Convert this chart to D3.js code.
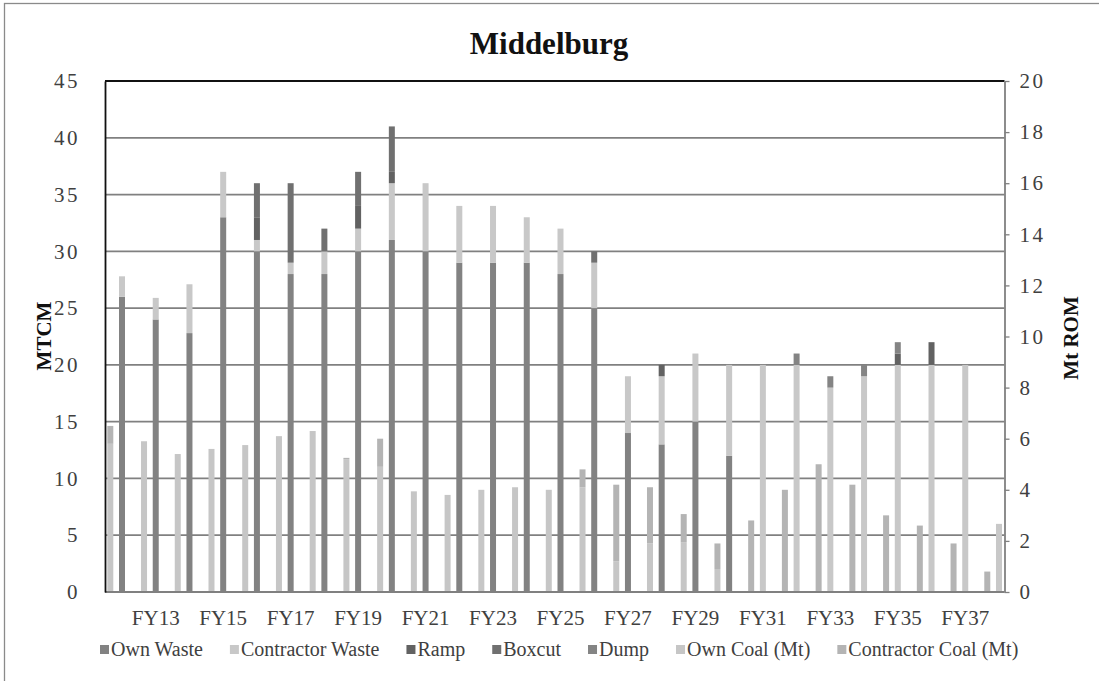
<!DOCTYPE html>
<html><head><meta charset="utf-8">
<script src="https://cdn.jsdelivr.net/npm/d3@7"></script>
<style>
body{margin:0;background:#fff}
svg{display:block}
text{font-family:"Liberation Serif","Times New Roman",serif}
</style>
</head><body>
<svg id="c" width="1099" height="681"></svg>
<script>
// ---------------- DATA ----------------
const categories = ["FY12","FY13","FY14","FY15","FY16","FY17","FY18","FY19","FY20","FY21","FY22","FY23","FY24","FY25","FY26","FY27","FY28","FY29","FY30","FY31","FY32","FY33","FY34","FY35","FY36","FY37","FY38"];
// waste (MTCM, left axis)
const ownWaste        = [26, 24, 22.8, 33, 30, 28, 28, 30, 31, 30, 29, 29, 29, 28, 25, 14, 13, 15, 12, 0, 0, 0, 0, 0, 0, 0, 0];
const contractorWaste = [1.8, 1.9, 4.3, 4, 1, 1, 2, 2, 5, 6, 5, 5, 4, 4, 4, 5, 6, 6, 8, 20, 20, 18, 19, 20, 20, 20, 6];
const ramp            = [0, 0, 0, 0, 2, 0, 0, 2, 1, 0, 0, 0, 0, 0, 0, 0, 1, 0, 0, 0, 0, 0, 0, 1, 2, 0, 0];
const boxcut          = [0, 0, 0, 0, 3, 7, 2, 3, 4, 0, 0, 0, 0, 0, 1, 0, 0, 0, 0, 0, 0, 0, 0, 0, 0, 0, 0];
const dump            = [0, 0, 0, 0, 0, 0, 0, 0, 0, 0, 0, 0, 0, 0, 0, 0, 0, 0, 0, 0, 1, 1, 1, 1, 0, 0, 0];
// coal (Mt ROM, right axis)
const ownCoal         = [5.8, 5.9, 5.4, 5.6, 5.75, 6.1, 6.3, 5.2, 4.9, 3.94, 3.8, 4.0, 4.1, 4.0, 4.1, 1.2, 1.9, 1.95, 0.9, 0, 0, 0, 0, 0, 0, 0, 0];
const contractorCoal  = [0.7, 0, 0, 0, 0, 0, 0, 0.05, 1.1, 0, 0, 0, 0, 0, 0.7, 3.0, 2.2, 1.1, 1.0, 2.8, 4.0, 5.0, 4.2, 3.0, 2.6, 1.9, 0.8];

const leftTicks  = [0, 5, 10, 15, 20, 25, 30, 35, 40, 45];
const rightTicks = [0, 2, 4, 6, 8, 10, 12, 14, 16, 18, 20];
const xTickLabels = ["FY13","FY15","FY17","FY19","FY21","FY23","FY25","FY27","FY29","FY31","FY33","FY35","FY37"];

const wasteSeries = ["Own Waste","Contractor Waste","Ramp","Boxcut","Dump"];
const coalSeries  = ["Own Coal (Mt)","Contractor Coal (Mt)"];
const legendOrder = ["Own Waste","Contractor Waste","Ramp","Boxcut","Dump","Own Coal (Mt)","Contractor Coal (Mt)"];
const colors = {
  "Own Waste":"#828282","Contractor Waste":"#c8c8c8","Ramp":"#626262","Boxcut":"#707070",
  "Dump":"#848484","Own Coal (Mt)":"#c6c6c6","Contractor Coal (Mt)":"#b4b4b4"
};

// ---------------- LAYOUT ----------------
const plotL = 105, plotR = 1004.5, plotT = 81, plotB = 592;
const step = 33.73, bandStart = 107.3, barW = 6, wasteOffset = 11.7;

const svg = d3.select("#c");

// outer frame
svg.append("rect").attr("x",4.5).attr("y",3.5).attr("width",1200).attr("height",900)
  .attr("fill","none").attr("stroke","#8a8a8a").attr("stroke-width",1.3);

const x = d3.scaleBand().domain(categories).range([bandStart, bandStart + step*categories.length]).paddingInner(0).paddingOuter(0);
const yL = d3.scaleLinear().domain([0,45]).range([plotB, plotT]);
const yR = d3.scaleLinear().domain([0,20]).range([plotB, plotT]);

// gridlines
svg.append("g").selectAll("line").data(leftTicks.filter(t=>t>0 && t<45)).join("line")
  .attr("x1",plotL).attr("x2",plotR).attr("y1",d=>yL(d)).attr("y2",d=>yL(d))
  .attr("stroke","#808080").attr("stroke-width",1.8);

// rows
const rows = categories.map((c,i)=>({
  cat:c,
  "Own Waste":ownWaste[i],"Contractor Waste":contractorWaste[i],"Ramp":ramp[i],"Boxcut":boxcut[i],"Dump":dump[i],
  "Own Coal (Mt)":ownCoal[i],"Contractor Coal (Mt)":contractorCoal[i]
}));

const wasteStack = d3.stack().keys(wasteSeries)(rows);
const coalStack = d3.stack().keys(coalSeries)(rows);

const gBars = svg.append("g");
coalStack.forEach(layer=>{
  gBars.append("g").attr("fill",colors[layer.key]).selectAll("rect")
    .data(layer.filter(d=>d[1]-d[0]>0)).join("rect")
    .attr("x",d=>x(d.data.cat)).attr("width",barW)
    .attr("y",d=>yR(d[1])).attr("height",d=>yR(d[0])-yR(d[1]));
});
wasteStack.forEach(layer=>{
  gBars.append("g").attr("fill",colors[layer.key]).selectAll("rect")
    .data(layer.filter(d=>d[1]-d[0]>0)).join("rect")
    .attr("x",d=>x(d.data.cat)+wasteOffset).attr("width",barW)
    .attr("y",d=>yL(d[1])).attr("height",d=>yL(d[0])-yL(d[1]));
});

// bottom axis line
svg.append("line").attr("x1",plotL).attr("x2",plotR).attr("y1",plotB).attr("y2",plotB)
  .attr("stroke","#808080").attr("stroke-width",1.8);
// top border (black)
svg.append("line").attr("x1",plotL).attr("x2",plotR).attr("y1",plotT).attr("y2",plotT)
  .attr("stroke","#111").attr("stroke-width",1.8);

// left axis
const axL = svg.append("g").attr("transform",`translate(${plotL},0)`)
  .call(d3.axisLeft(yL).tickValues(leftTicks).tickSize(0).tickPadding(25));
axL.select(".domain").attr("stroke","#111").attr("stroke-width",1.8);
axL.selectAll("text").attr("font-size",21).attr("letter-spacing",2.5).attr("fill","#404040").attr("font-family","Liberation Serif");

// right axis
const axR = svg.append("g").attr("transform",`translate(${plotR},0)`)
  .call(d3.axisRight(yR).tickValues(rightTicks).tickSizeInner(5).tickSizeOuter(0).tickPadding(10));
axR.select(".domain").attr("stroke","#808080").attr("stroke-width",1.8);
axR.selectAll("line").attr("stroke","#808080").attr("stroke-width",1.3);
axR.selectAll("text").attr("font-size",21).attr("letter-spacing",2.5).attr("fill","#404040").attr("font-family","Liberation Serif");

// x axis labels (centered on waste bars)
const shift = wasteOffset + barW/2 - x.bandwidth()/2;
const axB = svg.append("g").attr("transform",`translate(${shift},${plotB})`)
  .call(d3.axisBottom(x).tickValues(xTickLabels).tickSize(0).tickPadding(18));
axB.select(".domain").remove();
axB.selectAll("text").attr("font-size",21).attr("fill","#404040").attr("font-family","Liberation Serif");

// title
svg.append("text").attr("x",549).attr("y",54).attr("text-anchor","middle")
  .attr("font-size",31).attr("font-weight","bold").attr("fill","#111").text("Middelburg");

// axis titles
svg.append("text").attr("transform","translate(51,336) rotate(-90)").attr("text-anchor","middle")
  .attr("font-size",21).attr("font-weight","bold").attr("fill","#111").text("MTCM");
svg.append("text").attr("transform","translate(1078,338) rotate(-90)").attr("text-anchor","middle")
  .attr("font-size",21).attr("font-weight","bold").attr("fill","#111").text("Mt ROM");

// legend
const lg = svg.append("g");
let lx = 100;
const ly = 650;
legendOrder.forEach(name=>{
  lg.append("rect").attr("x",lx).attr("y",ly-5).attr("width",9).attr("height",9).attr("fill",colors[name]);
  const t = lg.append("text").attr("x",lx+11).attr("y",ly+6).attr("font-size",20).attr("fill","#404040").text(name);
  const w = t.node().getComputedTextLength();
  lx = lx + 11 + w + 27;
});
</script>
</body></html>
